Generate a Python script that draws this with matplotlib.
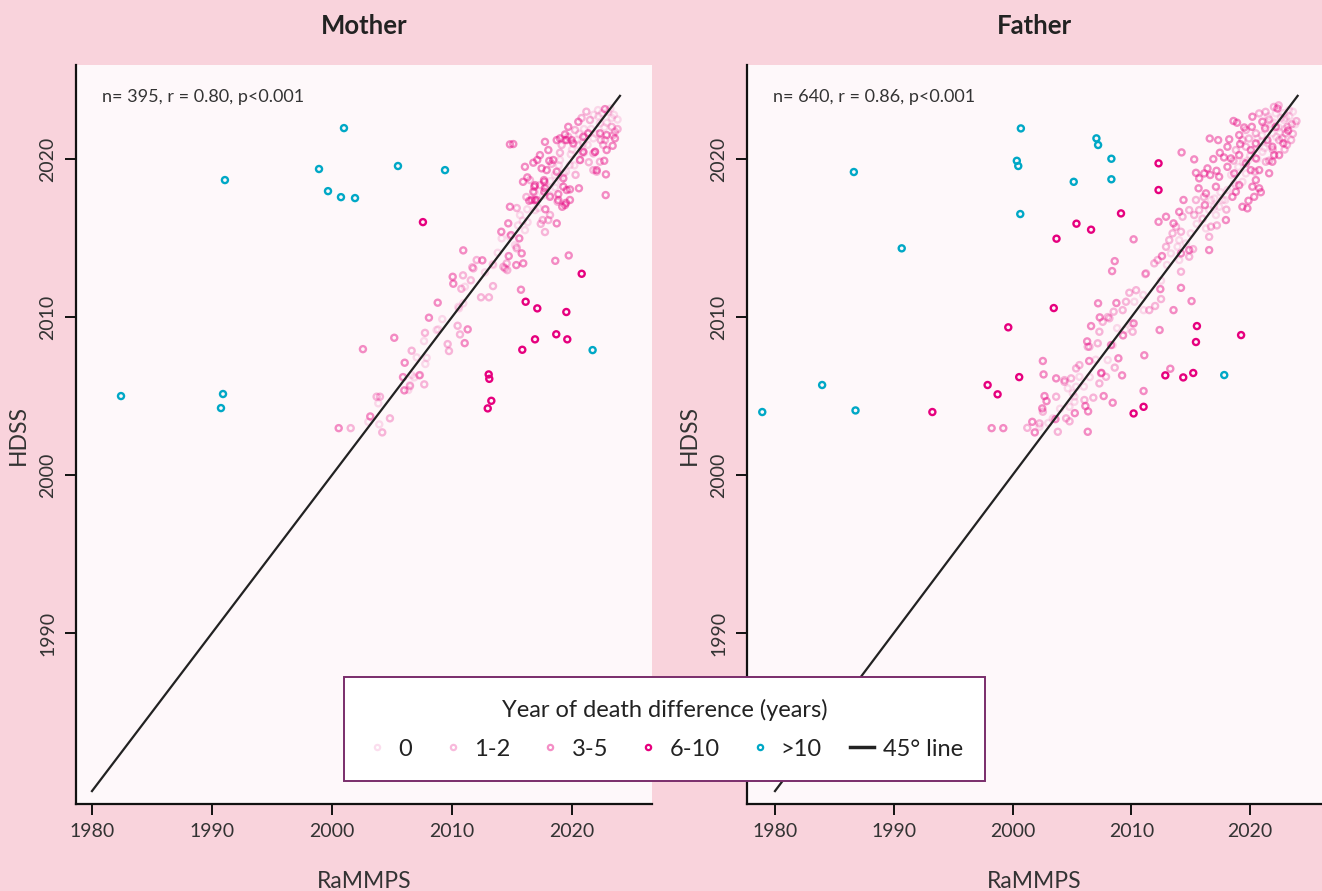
import matplotlib
matplotlib.use("Agg")
import matplotlib.pyplot as plt
from matplotlib.lines import Line2D

plt.rcParams['font.family'] = ['Lato', 'DejaVu Sans']

# ---- mother: (RaMMPS year, HDSS year) by size of the difference ----
mother_0 = [(2003.86, 2004.54), (2003.03, 2003.37), (2007.06, 2007.45), (2007.78, 2007.03),
            (2007.67, 2008.48), (2008.72, 2009.18), (2009.19, 2009.87), (2010.94, 2010.87),
            (2010.58, 2010.55), (2011.58, 2012.32), (2012.75, 2012.83), (2013.81, 2014.07),
            (2015.39, 2014.45), (2013.39, 2013.35), (2003.94, 2003.21), (2007.89, 2007.42),
            (2008.86, 2009.22), (2006.64, 2006.33), (2006.86, 2006.18), (2006.5, 2005.7),
            (2006.36, 2005.38), (2010.53, 2010.65), (2015.67, 2016.46), (2016.27, 2016.82),
            (2014.14, 2014.98), (2013.44, 2013.29), (2011.56, 2012.34), (2011.08, 2011.92),
            (2015.25, 2014.56), (2022.33, 2022.26), (2023.31, 2022.61), (2021.78, 2021.31),
            (2021.11, 2021.41), (2020.94, 2020.99), (2020.81, 2020.36), (2020.94, 2020.46),
            (2020.67, 2019.94), (2022.17, 2023.1), (2019.83, 2019.62), (2018.58, 2018.99),
            (2018.17, 2017.72), (2016.92, 2016.77), (2016.08, 2015.5), (2019.0, 2019.94),
            (2021.0, 2021.9), (2022.5, 2022.9), (2023.0, 2023.0), (2021.8, 2022.8),
            (2020.5, 2020.9), (2019.9, 2020.3), (2018.9, 2019.6), (2018.2, 2018.6),
            (2017.6, 2017.7), (2016.9, 2017.9), (2015.9, 2016.1), (2017.2, 2016.9),
            (2019.3, 2019.1), (2020.2, 2019.6), (2022.9, 2022.3), (2023.5, 2022.8),
            (2022.0, 2021.6), (2021.3, 2020.9), (2020.0, 2020.6), (2020.4, 2021.2),
            (2021.6, 2021.9), (2022.2, 2022.7), (2022.7, 2022.0), (2023.2, 2023.2),
            (2023.8, 2022.5), (2021.0, 2020.4), (2019.5, 2019.2), (2018.6, 2018.2),
            (2017.9, 2018.2), (2017.0, 2017.3), (2016.3, 2016.0), (2015.5, 2015.8),
            (2014.8, 2015.1), (2019.1, 2018.6), (2020.6, 2021.6)]
mother_1_2 = [(2001.56, 2002.97), (2004.83, 2003.59), (2004.0, 2004.96), (2004.19, 2002.7),
              (2007.69, 2005.74), (2006.5, 2005.63), (2007.33, 2006.33), (2006.64, 2007.87),
              (2007.75, 2009.0), (2009.64, 2008.29), (2009.75, 2007.85), (2010.67, 2008.9),
              (2010.47, 2009.45), (2012.42, 2011.25), (2013.08, 2011.25), (2013.42, 2011.96),
              (2010.78, 2011.79), (2010.92, 2012.64), (2011.69, 2013.15), (2012.06, 2013.61),
              (2014.28, 2013.18), (2014.61, 2012.97), (2003.72, 2004.96), (2007.28, 2006.31),
              (2014.56, 2013.4), (2014.42, 2013.08), (2011.78, 2013.08), (2017.56, 2016.14),
              (2018.03, 2016.14), (2018.17, 2016.46), (2015.39, 2014.35), (2021.5, 2022.47),
              (2023.58, 2021.73), (2023.31, 2022.04), (2019.69, 2021.41), (2019.42, 2021.2),
              (2019.14, 2020.89), (2021.78, 2020.36), (2022.06, 2019.2), (2021.78, 2019.3),
              (2022.33, 2019.83), (2021.92, 2020.46), (2020.25, 2021.84), (2022.75, 2021.2),
              (2017.33, 2018.35), (2016.5, 2018.67), (2017.75, 2015.38), (2022.4, 2021.2),
              (2020.8, 2022.6), (2023.8, 2021.9), (2019.0, 2020.4), (2018.3, 2019.7),
              (2020.3, 2019.0), (2021.4, 2019.8), (2017.4, 2015.9), (2016.2, 2017.6),
              (2015.4, 2016.9), (2018.8, 2017.3), (2022.6, 2020.9), (2023.4, 2021.5),
              (2021.2, 2023.0)]
mother_3_5 = [(2010.94, 2014.22), (2012.53, 2013.59), (2015.81, 2014.03), (2014.73, 2013.86),
              (2015.94, 2013.4), (2015.36, 2013.29), (2018.61, 2013.56), (2019.73, 2013.9),
              (2015.75, 2011.73), (2010.06, 2012.55), (2010.11, 2012.11), (2008.81, 2010.91),
              (2008.08, 2009.96), (2005.19, 2008.69), (2002.58, 2007.97), (2011.31, 2009.22),
              (2011.06, 2008.35), (2006.06, 2007.11), (2005.92, 2006.2), (2006.03, 2005.36),
              (2003.19, 2003.71), (2000.56, 2002.97), (2015.92, 2018.56), (2022.81, 2017.72),
              (2014.83, 2016.98), (2014.69, 2015.93), (2014.11, 2015.4), (2014.92, 2015.19),
              (2015.61, 2014.98), (2017.78, 2016.82), (2018.73, 2015.93), (2019.5, 2017.23),
              (2019.19, 2016.98), (2018.86, 2017.78), (2016.86, 2018.25), (2017.69, 2017.93),
              (2016.44, 2017.36), (2016.92, 2017.41), (2019.28, 2018.25), (2019.83, 2018.08),
              (2020.58, 2018.15), (2017.69, 2018.56), (2014.83, 2020.93), (2015.11, 2020.95),
              (2019.69, 2022.04), (2020.53, 2022.36), (2017.75, 2021.09), (2018.03, 2020.57),
              (2018.11, 2019.89), (2017.11, 2019.94), (2016.78, 2019.77), (2016.08, 2019.51),
              (2016.28, 2018.84), (2023.58, 2021.31), (2022.89, 2020.57), (2023.39, 2020.84),
              (2022.69, 2019.89), (2022.83, 2019.03), (2022.06, 2019.3), (2021.92, 2020.46),
              (2020.94, 2020.46), (2020.67, 2019.94), (2019.56, 2018.04), (2019.83, 2017.41),
              (2019.42, 2017.09), (2019.28, 2018.78), (2018.73, 2019.2), (2019.56, 2021.2),
              (2019.97, 2021.2), (2020.11, 2020.99), (2020.94, 2021.41), (2021.36, 2021.63),
              (2019.42, 2021.56), (2019.0, 2021.31), (2017.89, 2019.3), (2017.67, 2018.67),
              (2017.75, 2018.15), (2016.92, 2018.35), (2016.78, 2017.93), (2017.06, 2017.41),
              (2016.64, 2017.41), (2018.86, 2017.41), (2018.17, 2017.61), (2017.47, 2019.41),
              (2018.44, 2019.94), (2017.33, 2020.25), (2022.75, 2023.16), (2022.89, 2021.52),
              (2022.33, 2021.63), (2018.73, 2021.2)]
mother_6_10 = [(2007.58, 2016.01), (2020.81, 2012.74), (2016.14, 2010.97), (2017.11, 2010.55),
               (2019.53, 2010.32), (2015.86, 2007.93), (2016.92, 2008.59), (2018.69, 2008.91),
               (2019.61, 2008.59), (2013.06, 2006.37), (2013.11, 2006.09), (2013.28, 2004.7),
               (2012.98, 2004.22)]
mother_10_plus = [(1982.42, 2005.0), (1990.92, 2005.13), (1990.75, 2004.24), (1991.08, 2018.67),
                  (1998.92, 2019.37), (1999.67, 2017.97), (2000.75, 2017.59), (2001.92, 2017.53),
                  (2001.0, 2021.96), (2005.5, 2019.56), (2009.42, 2019.3), (2021.72, 2007.91)]

# ---- father ----
father_0 = [(2010.25, 2010.97), (2011.03, 2010.44), (2009.97, 2009.6), (2008.43, 2008.23),
            (2008.01, 2007.28), (2004.65, 2005.49), (2005.35, 2005.59), (2005.21, 2004.96),
            (2004.79, 2004.32), (2005.21, 2004.64), (2005.63, 2006.22), (2005.07, 2005.17),
            (2003.39, 2003.59), (2002.27, 2003.06), (2022.86, 2022.47), (2021.87, 2021.63),
            (2021.03, 2020.46), (2019.64, 2019.09), (2019.35, 2018.56), (2018.66, 2018.46),
            (2018.09, 2018.04), (2017.67, 2017.41), (2016.97, 2016.98), (2016.55, 2016.77),
            (2015.99, 2016.25), (2017.12, 2016.46), (2017.39, 2016.98), (2016.7, 2017.41),
            (2014.03, 2014.87), (2013.89, 2014.45), (2013.33, 2014.03), (2014.6, 2014.66),
            (2014.03, 2013.61), (2016.28, 2015.61), (2022.16, 2022.89), (2023.28, 2023.1),
            (2020.9, 2021.1), (2022.4, 2022.0), (2021.0, 2021.5), (2022.0, 2022.3),
            (2022.8, 2022.9), (2020.0, 2020.2), (2019.0, 2019.5), (2018.4, 2019.0),
            (2017.5, 2017.9), (2016.0, 2016.2), (2023.0, 2022.6), (2022.5, 2021.7),
            (2021.5, 2021.0), (2020.6, 2020.0), (2019.8, 2019.9), (2021.2, 2022.1),
            (2021.8, 2022.2), (2022.6, 2022.6), (2023.3, 2022.7), (2023.6, 2023.0),
            (2022.9, 2021.9), (2022.2, 2021.4), (2021.2, 2020.7), (2020.3, 2020.6),
            (2019.4, 2019.8), (2018.8, 2018.3), (2017.9, 2017.4), (2017.0, 2017.5),
            (2015.5, 2015.9), (2015.0, 2015.3), (2013.0, 2013.3), (2012.5, 2012.3),
            (2011.0, 2011.4), (2009.5, 2009.2), (2008.8, 2009.3), (2007.0, 2007.3),
            (2006.5, 2006.2), (2006.0, 2005.6), (2004.0, 2004.2), (2003.0, 2003.3),
            (2023.8, 2022.2), (2021.5, 2022.7), (2020.6, 2021.3)]
father_1_2 = [(2004.51, 2003.59), (2002.27, 2003.27), (2009.27, 2010.44), (2011.18, 2012.72),
              (2012.5, 2011.14), (2014.18, 2012.87), (2009.83, 2011.54), (2009.55, 2010.97),
              (2011.51, 2010.44), (2010.11, 2009.07), (2008.15, 2009.92), (2008.51, 2010.34),
              (2007.31, 2009.07), (2007.59, 2009.7), (2007.17, 2008.34), (2007.45, 2006.44),
              (2007.87, 2006.22), (2007.31, 2005.8), (2006.33, 2008.12), (2005.63, 2006.96),
              (2005.35, 2006.75), (2004.93, 2006.12), (2004.37, 2005.9), (2006.05, 2004.75),
              (2003.67, 2004.96), (2003.81, 2002.74), (2002.55, 2004.01), (2001.24, 2002.99),
              (2008.01, 2010.0), (2006.47, 2008.12), (2004.37, 2006.01), (2023.14, 2022.04),
              (2023.0, 2021.63), (2022.72, 2021.31), (2022.44, 2021.2), (2020.76, 2022.89),
              (2020.48, 2021.63), (2019.64, 2021.84), (2019.35, 2021.2), (2018.8, 2020.57),
              (2019.64, 2020.78), (2021.32, 2019.83), (2015.71, 2016.77), (2014.87, 2016.77),
              (2015.29, 2016.46), (2015.44, 2017.41), (2014.31, 2016.35), (2013.76, 2015.72),
              (2014.18, 2015.4), (2013.47, 2015.3), (2013.19, 2014.87), (2012.92, 2014.45),
              (2014.87, 2013.82), (2011.93, 2013.4), (2012.21, 2013.61), (2011.23, 2012.77),
              (2016.55, 2015.08), (2016.7, 2015.72), (2021.3, 2022.99), (2023.45, 2021.2),
              (2022.4, 2023.4), (2023.1, 2020.9), (2021.6, 2022.5), (2023.5, 2022.2),
              (2022.0, 2023.3), (2023.6, 2021.6), (2023.9, 2022.4), (2021.9, 2020.6),
              (2020.4, 2019.2), (2019.9, 2021.3), (2018.6, 2019.9), (2018.0, 2016.8),
              (2017.2, 2015.8), (2016.1, 2017.6), (2015.2, 2014.3), (2012.0, 2010.7),
              (2010.4, 2011.7), (2006.8, 2004.9), (2008.6, 2006.8), (2004.8, 2003.4),
              (2022.9, 2020.6), (2021.6, 2019.9)]
father_3_5 = [(2010.19, 2014.92), (2008.6, 2013.54), (2008.38, 2012.91), (2007.2, 2010.87),
              (2008.74, 2010.89), (2007.34, 2009.98), (2006.61, 2009.43), (2006.28, 2008.46),
              (2008.29, 2008.23), (2006.45, 2007.22), (2008.91, 2007.39), (2009.22, 2006.31),
              (2007.48, 2006.47), (2002.55, 2007.22), (2002.61, 2006.37), (2003.67, 2006.12),
              (2002.69, 2005.0), (2002.86, 2004.68), (2002.5, 2004.22), (2001.66, 2003.37),
              (2001.87, 2002.7), (1998.24, 2002.97), (1999.22, 2002.97), (2005.24, 2003.92),
              (2006.13, 2004.37), (2006.36, 2004.03), (2007.67, 2005.0), (2008.43, 2004.58),
              (2006.33, 2002.74), (2012.44, 2011.77), (2014.18, 2011.85), (2015.07, 2011.01),
              (2013.55, 2010.44), (2012.38, 2009.18), (2010.19, 2009.6), (2011.09, 2007.58),
              (2013.28, 2006.73), (2009.3, 2008.84), (2011.03, 2005.32), (2003.61, 2003.54),
              (2018.6, 2022.41), (2017.31, 2021.2), (2014.23, 2020.42), (2015.29, 2019.98),
              (2015.44, 2019.13), (2015.66, 2018.15), (2014.39, 2017.41), (2016.19, 2017.09),
              (2016.28, 2017.83), (2017.17, 2019.26), (2016.41, 2019.41), (2017.45, 2020.4),
              (2018.09, 2020.78), (2018.24, 2021.25), (2019.08, 2021.52), (2019.16, 2020.95),
              (2020.19, 2022.68), (2020.14, 2022.04), (2021.03, 2022.36), (2021.26, 2021.94),
              (2022.16, 2022.04), (2021.45, 2021.2), (2020.48, 2020.99), (2020.06, 2020.57),
              (2019.08, 2020.25), (2018.38, 2020.04), (2018.09, 2019.51), (2018.66, 2019.09),
              (2019.64, 2019.73), (2020.48, 2020.04), (2020.76, 2019.3), (2022.02, 2020.25),
              (2021.87, 2019.83), (2022.44, 2020.25), (2021.87, 2020.78), (2020.06, 2019.3),
              (2020.48, 2018.67), (2020.19, 2018.25), (2020.76, 2018.15), (2020.34, 2017.61),
              (2019.86, 2017.36), (2019.77, 2016.88), (2019.08, 2018.35), (2018.8, 2017.93),
              (2018.51, 2017.61), (2017.96, 2016.14), (2017.12, 2018.25), (2015.71, 2018.78),
              (2016.13, 2019.09), (2016.64, 2018.99), (2017.39, 2018.88), (2019.35, 2016.98),
              (2012.92, 2016.35), (2012.29, 2016.03), (2013.55, 2015.93), (2014.03, 2016.66),
              (2012.58, 2013.86), (2014.87, 2014.24), (2014.18, 2014.03), (2016.55, 2014.24),
              (2020.9, 2017.9), (2021.6, 2019.1), (2022.8, 2021.0), (2023.2, 2021.8),
              (2019.5, 2022.0), (2018.9, 2022.3), (2017.8, 2020.1), (2016.9, 2020.0),
              (2016.6, 2021.3), (2022.3, 2023.2)]
father_6_10 = [(2009.13, 2016.56), (2005.38, 2015.91), (2006.61, 2015.53), (2003.7, 2014.96),
               (2003.47, 2010.57), (1999.64, 2009.35), (2000.56, 2006.2), (1997.9, 2005.7),
               (1998.74, 2005.11), (1993.25, 2003.99), (2010.19, 2003.9), (2012.29, 2019.73),
               (2012.29, 2018.04), (2011.03, 2004.32), (2012.86, 2006.31), (2014.37, 2006.18),
               (2015.21, 2006.46), (2015.52, 2009.43), (2015.44, 2008.42), (2019.24, 2008.86)]
father_10_plus = [(2000.7, 2021.94), (1986.64, 2019.18), (2000.36, 2019.89), (2000.48, 2019.56),
                  (2007.06, 2021.31), (2007.2, 2020.89), (2008.32, 2020.02), (2005.15, 2018.56),
                  (2008.32, 2018.72), (2000.65, 2016.52), (1990.67, 2014.35), (1983.97, 2005.7),
                  (1986.78, 2004.09), (1978.93, 2003.99), (2017.82, 2006.33)]

group_labels = ['0', '1-2', '3-5', '6-10', '>10']
pink = '#e6007e'
cyan = '#00a8c6'
group_colors = [pink, pink, pink, pink, cyan]
group_alpha = [0.13, 0.27, 0.44, 1.0, 1.0]

panels = [
    ('Mother', 'n= 395, r = 0.80, p<0.001',
     [mother_0, mother_1_2, mother_3_5, mother_6_10, mother_10_plus], (1978.67, 2026.67)),
    ('Father', 'n= 640, r = 0.86, p<0.001',
     [father_0, father_1_2, father_3_5, father_6_10, father_10_plus], (1977.65, 2026.05)),
]

bg = '#f9d3dc'
fig = plt.figure(figsize=(13.22, 8.91), dpi=100, facecolor=bg)
axes = [fig.add_axes([0.0575, 0.0976, 0.4357, 0.8294]),
        fig.add_axes([0.5651, 0.0976, 0.4349, 0.8294])]

for ax, (title, stats, groups, xlim) in zip(axes, panels):
    ax.set_facecolor('#fef8fa')
    for pts, c, a in zip(groups, group_colors, group_alpha):
        xs = [p[0] for p in pts]
        ys = [p[1] for p in pts]
        ax.scatter(xs, ys, s=19, facecolors='none', edgecolors=c, alpha=a,
                   linewidths=1.7, zorder=2)
    ax.plot([1980, 2024], [1980, 2024], color='#222222', lw=1.6, zorder=3)
    ax.set_xlim(*xlim)
    ax.set_ylim(1979.18, 2025.95)
    ax.set_xticks([1980, 1990, 2000, 2010, 2020])
    ax.set_yticks([1990, 2000, 2010, 2020])
    for s in ('top', 'right'):
        ax.spines[s].set_visible(False)
    for s in ('left', 'bottom'):
        ax.spines[s].set_linewidth(1.6)
        ax.spines[s].set_color('#111111')
    ax.tick_params(length=8, width=1.4, labelsize=14, colors='#111111',
                   labelcolor='#333333', pad=6)
    for lbl in ax.get_yticklabels():
        lbl.set_rotation(90)
        lbl.set_va('center')
    ax.set_xlabel('RaMMPS', fontsize=16.5, color='#333333', labelpad=22)
    ax.set_ylabel('HDSS', fontsize=16.5, color='#333333', labelpad=8)
    ax.set_title(title, fontsize=18.5, fontweight='bold', color='#222222', pad=22)
    ax.text(0.045, 0.957, stats, transform=ax.transAxes, fontsize=13,
            color='#333333', va='center', ha='left')

handles = []
for c, a, lab in zip(group_colors, group_alpha, group_labels):
    handles.append(Line2D([], [], ls='none', marker='o', markersize=3.8,
                          markerfacecolor='none', markeredgecolor=c,
                          markeredgewidth=1.6, alpha=a, label=lab))
handles.append(Line2D([], [], color='#222222', lw=2.5, label='45° line'))

leg = fig.legend(handles=handles, loc='center', bbox_to_anchor=(0.5027, 0.1818),
                 ncol=6, fontsize=17, title='Year of death difference (years)',
                 title_fontsize=17, frameon=True, fancybox=False,
                 handlelength=1.0, handletextpad=0.4, columnspacing=1.2,
                 borderpad=0.9, labelspacing=0.6)
for t in leg.get_texts():
    t.set_color('#222222')
leg.get_title().set_color('#222222')
leg.get_frame().set_edgecolor('#7a2d6b')
leg.get_frame().set_linewidth(1.4)
leg.get_frame().set_facecolor('white')
leg.get_frame().set_alpha(1)
leg._legend_box.sep = 13
leg.set_zorder(10)

fig.savefig('out.png', dpi=100, facecolor=bg)
